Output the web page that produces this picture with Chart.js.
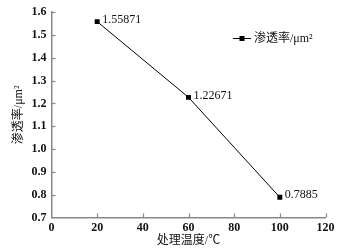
<!DOCTYPE html>
<html>
<head>
<meta charset="utf-8">
<script src="https://cdn.jsdelivr.net/npm/chart.js@4/dist/chart.umd.min.js"></script>
<style>
  html, body { margin:0; padding:0; background:#fff; }
  #wrap { width:344px; height:248px; }
</style>
</head>
<body>
<div id="wrap"><canvas id="c"></canvas></div>
<script>
// 数据
const temps = [20, 60, 100];
const perm = [1.55871, 1.22671, 0.7885];
const permLabels = ["1.55871", "1.22671", "0.7885"];
const xTicks = [0, 20, 40, 60, 80, 100, 120];
const yTicks = [0.7, 0.8, 0.9, 1.0, 1.1, 1.2, 1.3, 1.4, 1.5, 1.6];

const FONT = "'Liberation Serif', 'Noto Sans CJK SC', serif";
const AXIS = "#888";

// 刻度线朝内 + 数据标签 + 图例
const extras = {
  id: "extras",
  afterDatasetsDraw(chart){
    const {ctx, scales:{x, y}, chartArea} = chart;
    ctx.save();
    ctx.strokeStyle = AXIS;
    ctx.lineWidth = 1.2;
    xTicks.forEach(v=>{
      if(v === xTicks[0]) return;
      const px = Math.round(x.getPixelForValue(v)) + 0.5;
      ctx.beginPath();
      ctx.moveTo(px, chartArea.bottom);
      ctx.lineTo(px, chartArea.bottom - 4);
      ctx.stroke();
    });
    yTicks.forEach(v=>{
      if(v === yTicks[0]) return;
      const py = Math.round(y.getPixelForValue(v)) + 0.5;
      ctx.beginPath();
      ctx.moveTo(chartArea.left, py);
      ctx.lineTo(chartArea.left + 4, py);
      ctx.stroke();
    });

    // 数据标签
    const meta = chart.getDatasetMeta(0);
    ctx.fillStyle = "#111";
    ctx.font = "12px " + FONT;
    ctx.textAlign = "left";
    ctx.textBaseline = "middle";
    meta.data.forEach((pt, i)=>{
      ctx.fillText(permLabels[i], pt.x + 5, pt.y - 2);
    });

    // 图例
    const lx = 233, ly = 38.5;
    ctx.strokeStyle = "#000";
    ctx.lineWidth = 1;
    ctx.beginPath();
    ctx.moveTo(lx, ly);
    ctx.lineTo(lx + 18, ly);
    ctx.stroke();
    ctx.fillStyle = "#000";
    ctx.fillRect(lx + 9 - 2.5, ly - 2.5, 5, 5);
    ctx.fillStyle = "#111";
    ctx.fillText(chart.data.datasets[0].label, lx + 21, ly);
    ctx.restore();
  }
};

new Chart(document.getElementById("c"), {
  type: "line",
  data: {
    datasets: [{
      label: "渗透率/μm²",
      data: temps.map((t, i)=>({x:t, y:perm[i]})),
      borderColor: "#000",
      borderWidth: 1,
      backgroundColor: "#000",
      pointStyle: "rect",
      pointRadius: 3.5,
      pointBorderWidth: 0,
      tension: 0
    }]
  },
  options: {
    responsive: true,
    maintainAspectRatio: false,
    animation: false,
    layout: { padding: { left:0, right:18.5, top:9.5, bottom:0 } },
    plugins: { legend: { display:false }, tooltip: { enabled:false } },
    scales: {
      x: {
        type: "linear",
        min: 0, max: 120,
        afterBuildTicks: s=>{ s.ticks = xTicks.map(v=>({value:v})); },
        afterFit: s=>{ s.height = 30.5; },
        grid: { display:false, drawTicks:false },
        border: { color:AXIS, width:1.5 },
        ticks: { color:"#111", padding:3, maxRotation:0, font:{ family:FONT, size:12, weight:"bold" } },
        title: { display:true, text:"处理温度/℃", color:"#111", padding:{top:0,bottom:0}, font:{ family:FONT, size:12 } }
      },
      y: {
        min: 0.7, max: 1.6,
        afterBuildTicks: s=>{ s.ticks = yTicks.map(v=>({value:v})); },
        afterFit: s=>{ s.width = 51.5; },
        grid: { display:false, drawTicks:false },
        border: { color:AXIS, width:1.5 },
        ticks: { color:"#111", padding:5, callback: v=>Number(v).toFixed(1), font:{ family:FONT, size:12, weight:"bold" } },
        title: { display:true, text:"渗透率/μm²", color:"#111", padding:{top:12,bottom:0}, font:{ family:FONT, size:12 } }
      }
    }
  },
  plugins: [extras]
});
</script>
</body>
</html>
